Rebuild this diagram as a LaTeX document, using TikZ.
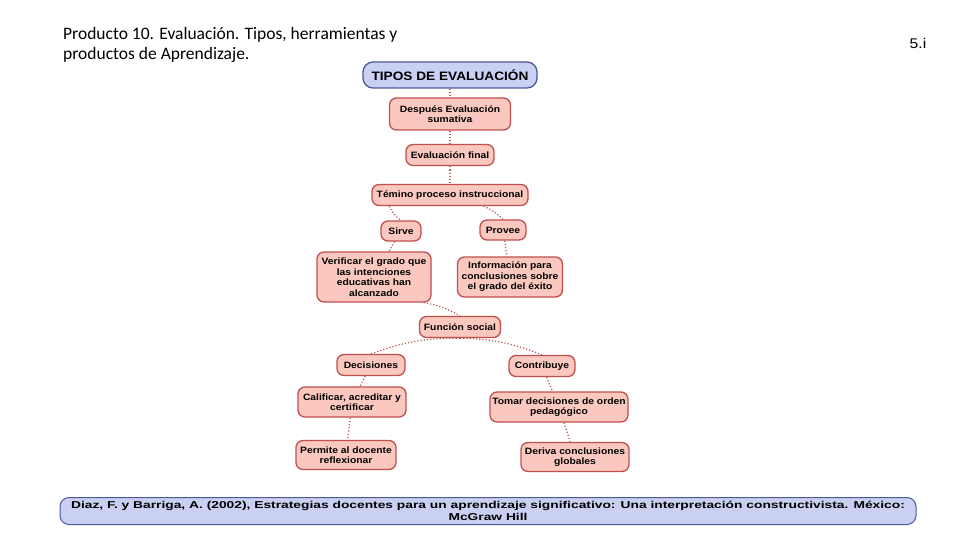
\documentclass[tikz,border=0pt]{standalone}
\usepackage{fontspec}
\setmainfont{Carlito}
\newfontfamily\nodefont[FakeStretch=1.12]{Liberation Sans}
\newfontfamily\citefont[FakeStretch=1.38]{Liberation Sans}
\definecolor{boxfill}{HTML}{FAC8BE}
\definecolor{boxline}{HTML}{C0504D}
\definecolor{bluefill}{HTML}{C9D0F2}
\definecolor{blueline}{HTML}{4A5A9A}
\definecolor{linkcol}{HTML}{B8584E}
\begin{document}
\begin{tikzpicture}[x=1pt,y=-1pt,
  cbox/.style={draw=boxline,fill=boxfill,line width=1.3pt,rounded corners=7pt,
    font=\nodefont\bfseries\fontsize{9.2}{10.5}\selectfont,align=center,inner sep=0pt},
  bbox/.style={draw=blueline,fill=bluefill,line width=1.3pt,rounded corners=10pt,align=center,inner sep=0pt},
  link/.style={draw=linkcol,line width=1.2pt,dotted}]
\useasboundingbox (0,0) rectangle (960,540);
\fill[white] (0,0) rectangle (960,540);

\node[anchor=north west,align=left,font=\fontsize{17.5}{20}\selectfont,inner sep=0pt] (title) at (63,27)
  {Producto 10. Evaluación. Tipos, herramientas y\\productos de Aprendizaje.};
\node[font=\nodefont\fontsize{14}{16}\selectfont,inner sep=0pt] (num) at (918,43) {5.i};

\node[bbox,minimum width=174pt,minimum height=26pt,font=\nodefont\bfseries\fontsize{12.2}{13}\selectfont] (tipos) at (450,75) {TIPOS DE EVALUACIÓN};
\node[cbox,minimum width=121pt,minimum height=32pt] (despues) at (450,114) {Después Evaluación\\sumativa};
\node[cbox,minimum width=88pt,minimum height=21pt] (final) at (450,155) {Evaluación final};
\node[cbox,minimum width=156pt,minimum height=21pt] (termino) at (450,195) {Témino proceso instruccional};
\node[cbox,minimum width=40pt,minimum height=20pt] (sirve) at (401,231) {Sirve};
\node[cbox,minimum width=46pt,minimum height=20pt] (provee) at (503,230) {Provee};
\node[cbox,minimum width=114pt,minimum height=50pt] (verificar) at (374,277) {Verificar el grado que\\las intenciones\\educativas han\\alcanzado};
\node[cbox,minimum width=105pt,minimum height=40pt] (info) at (510,277) {Información para\\conclusiones sobre\\el grado del éxito};
\node[cbox,minimum width=81pt,minimum height=21pt] (funcion) at (460,327) {Función social};
\node[cbox,minimum width=68pt,minimum height=21pt] (decisiones) at (371,365) {Decisiones};
\node[cbox,minimum width=66pt,minimum height=21pt] (contribuye) at (542,366) {Contribuye};
\node[cbox,minimum width=108pt,minimum height=30pt] (calificar) at (352,402) {Calificar, acreditar y\\certificar};
\node[cbox,minimum width=138pt,minimum height=30pt] (tomar) at (559,407) {Tomar decisiones de orden\\pedagógico};
\node[cbox,minimum width=100pt,minimum height=29pt] (permite) at (346,455) {Permite al docente\\reflexionar};
\node[cbox,minimum width=108pt,minimum height=29pt] (deriva) at (575,457) {Deriva conclusiones\\globales};

\node[bbox,minimum width=856pt,minimum height=27pt,rounded corners=9pt,line width=1pt,
  font=\citefont\bfseries\fontsize{10}{11.5}\selectfont] (cita) at (488,511)
  {Diaz, F. y Barriga, A. (2002), Estrategias docentes para un aprendizaje significativo: Una interpretación constructivista. México:\\McGraw Hill};

\draw[link] (tipos) -- (despues);
\draw[link] (despues) -- (final);
\draw[link] (final) -- (termino);
\draw[link] (termino.south west) ++(18,0) to[bend right=15] (sirve.north);
\draw[link] (termino.south east) ++(-45,0) to[bend left=10] (provee.north);
\draw[link] (sirve) -- (verificar);
\draw[link] (provee) -- (info);
\draw[link] (verificar.south east) ++(-8,0) to[bend left=10] (funcion.north);
\draw[link] (funcion.south) to[bend right=10] (decisiones.north);
\draw[link] (funcion.south) to[bend left=10] (contribuye.north);
\draw[link] (decisiones) -- (calificar);
\draw[link] (contribuye) -- (tomar);
\draw[link] (calificar) -- (permite);
\draw[link] (tomar) -- (deriva);
\end{tikzpicture}
\end{document}
